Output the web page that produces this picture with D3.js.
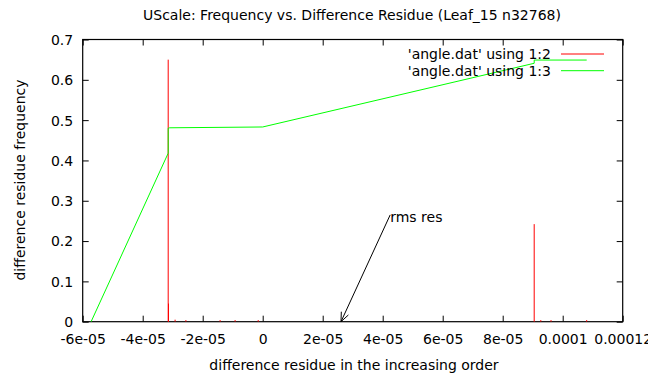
<!DOCTYPE html>
<html><head><meta charset="utf-8">
<script src="https://cdn.jsdelivr.net/npm/d3@7"></script>
<style>body{margin:0;background:#fff}svg{display:block}text{font-family:"DejaVu Sans",sans-serif;font-size:14px;fill:#000}</style>
</head><body><svg id="c" width="664" height="378"></svg>
<script>
const title = "UScale: Frequency vs. Difference Residue (Leaf_15 n32768)";
const xTicks = [-6e-5,-4e-5,-2e-5,0,2e-5,4e-5,6e-5,8e-5,1e-4,1.2e-4];
const xTickLabels = ["-6e-05","-4e-05","-2e-05","0","2e-05","4e-05","6e-05","8e-05","0.0001","0.00012"];
const yTicks = [0,0.1,0.2,0.3,0.4,0.5,0.6,0.7];
const yTickLabels = ["0","0.1","0.2","0.3","0.4","0.5","0.6","0.7"];
// series 1:2 (impulses)
const impX = [-3.15e-5,-3.14e-5,-2.92e-5,-2.56e-5,-1.42e-5,-0.92e-5,-0.15e-5,9.05e-5,9.27e-5,9.61e-5,1.08e-4];
const impY = [0.65,0.045,0.005,0.004,0.004,0.004,0.004,0.242,0.004,0.004,0.004];
// series 1:3 (line)
const lineX = [-5.72e-5,-3.15e-5,-3.15e-5,-3.1e-5,0,9.05e-5,9.05e-5,1.08e-4];
const lineY = [0,0.418,0.48,0.481,0.483,0.641,0.649,0.649];
const legendLabels = ["'angle.dat' using 1:2","'angle.dat' using 1:3"];
const colors = ["#ff0000","#00ff00"];
const arrowText = "rms res";
const arrowFrom = [4.25e-5,0.265];
const arrowTo = [2.61e-5,0];

const svg = d3.select("#c");
svg.append("defs").append("clipPath").attr("id","canvasClip")
  .append("rect").attr("x",0).attr("y",0).attr("width",648).attr("height",378);
const root = svg.append("g").attr("clip-path","url(#canvasClip)");
const L=82.7,R=622.7,T=39.5,B=321.7;
const x = d3.scaleLinear().domain([-6e-5,1.2e-4]).range([L,R]);
const y = d3.scaleLinear().domain([0,0.7]).range([B,T]);

root.append("text").attr("x",352).attr("y",20).attr("text-anchor","middle").text(title);

const tl=6;
const xb = d3.axisBottom(x).tickValues(xTicks).tickSize(-tl).tickFormat((d,i)=>xTickLabels[i]);
const gxb = root.append("g").attr("transform",`translate(0,${B})`).call(xb);
const xt = d3.axisTop(x).tickValues(xTicks).tickSize(-tl).tickFormat("");
const gxt = root.append("g").attr("transform",`translate(0,${T})`).call(xt);
const yl = d3.axisLeft(y).tickValues(yTicks).tickSize(-tl).tickFormat((d,i)=>yTickLabels[i]);
const gyl = root.append("g").attr("transform",`translate(${L},0)`).call(yl);
const yr = d3.axisRight(y).tickValues(yTicks).tickSize(-tl).tickFormat("");
const gyr = root.append("g").attr("transform",`translate(${R},0)`).call(yr);
[gxb,gxt,gyl,gyr].forEach(g=>{g.select(".domain").remove();g.selectAll("line").attr("stroke","#000");g.selectAll("text").attr("font-family","DejaVu Sans").attr("font-size",14).attr("fill","#000");});
gxb.selectAll("text").attr("y",0).attr("dy",22.5);
gyl.selectAll("text").attr("x",-9.5).attr("dy","0.35em");

root.append("rect").attr("x",L).attr("y",T).attr("width",R-L).attr("height",B-T).attr("fill","none").attr("stroke","#000").attr("stroke-width",1.2);

root.append("g").selectAll("line").data(impX).join("line")
  .attr("x1",d=>x(d)).attr("x2",d=>x(d)).attr("y1",y(0)).attr("y2",(d,i)=>y(impY[i]))
  .attr("stroke",colors[0]).attr("stroke-width",1);

root.append("path").datum(lineX.map((d,i)=>[d,lineY[i]]))
  .attr("d",d3.line().x(d=>x(d[0])).y(d=>y(d[1])))
  .attr("fill","none").attr("stroke",colors[1]).attr("stroke-width",1);

const ax1=x(arrowFrom[0]),ay1=y(arrowFrom[1]),ax2=x(arrowTo[0]),ay2=y(arrowTo[1]);
root.append("line").attr("x1",ax1).attr("y1",ay1).attr("x2",ax2).attr("y2",ay2).attr("stroke","#000").attr("stroke-width",1);
const ang=Math.atan2(ay2-ay1,ax2-ax1), hl=10, ha=0.4;
root.append("path").attr("d",`M${ax2-hl*Math.cos(ang-ha)},${ay2-hl*Math.sin(ang-ha)}L${ax2},${ay2}L${ax2-hl*Math.cos(ang+ha)},${ay2-hl*Math.sin(ang+ha)}`)
  .attr("fill","none").attr("stroke","#000").attr("stroke-width",1);
root.append("text").attr("x",ax1).attr("y",ay1+2).attr("dy","0.35em").text(arrowText);

legendLabels.forEach((t,i)=>{
  const ly=54+i*16.7;
  root.append("text").attr("x",551).attr("y",ly).attr("dy","0.35em").attr("text-anchor","end").text(t);
  root.append("line").attr("x1",561).attr("x2",604).attr("y1",ly).attr("y2",ly).attr("stroke",colors[i]).attr("stroke-width",1);
});

root.append("text").attr("x",354).attr("y",370).attr("text-anchor","middle").text("difference residue in the increasing order");
root.append("text").attr("transform","translate(25,180) rotate(-90)").attr("text-anchor","middle").text("difference residue frequency");
</script></body></html>
